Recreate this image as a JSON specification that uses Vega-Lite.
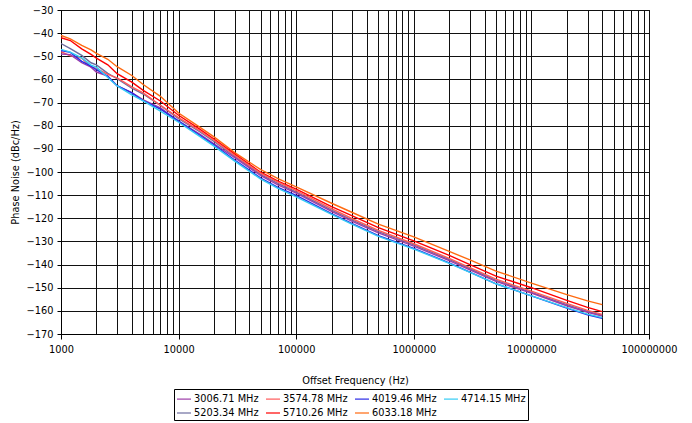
{
  "$schema": "https://vega.github.io/schema/vega-lite/v6.json",
  "autosize": "none",
  "width": 588,
  "height": 324,
  "padding": {"left": 61, "top": 10, "right": 43, "bottom": 89},
  "background": "white",
  "config": {
    "font": "DejaVu Sans",
    "view": {"stroke": "black", "strokeWidth": 1},
    "axis": {"labelFont": "DejaVu Sans", "titleFont": "DejaVu Sans", "labelFontSize": 9.8, "titleFontSize": 9.8, "titleFontWeight": "normal", "labelColor": "black", "titleColor": "black", "domainColor": "black", "tickColor": "black", "gridColor": "#111111", "gridOpacity": 1, "gridWidth": 1},
    "legend": {"labelFont": "DejaVu Sans", "labelFontSize": 9.8, "labelColor": "black"}
  },
  "datasets": {
    "pn": [
      {"s":"6033.18 MHz","f":1000,"v":-41},{"s":"6033.18 MHz","f":1200,"v":-42.5},{"s":"6033.18 MHz","f":1500,"v":-45.3},{"s":"6033.18 MHz","f":1800,"v":-47.2},{"s":"6033.18 MHz","f":2000,"v":-48.7},{"s":"6033.18 MHz","f":2500,"v":-51.3},{"s":"6033.18 MHz","f":3000,"v":-54.5},{"s":"6033.18 MHz","f":4000,"v":-58.3},{"s":"6033.18 MHz","f":5000,"v":-62.2},{"s":"6033.18 MHz","f":7000,"v":-67.3},{"s":"6033.18 MHz","f":10000,"v":-74.5},{"s":"6033.18 MHz","f":15000,"v":-80.5},{"s":"6033.18 MHz","f":20000,"v":-84.8},{"s":"6033.18 MHz","f":30000,"v":-91.6},{"s":"6033.18 MHz","f":50000,"v":-99},{"s":"6033.18 MHz","f":70000,"v":-102.9},{"s":"6033.18 MHz","f":100000,"v":-106.4},{"s":"6033.18 MHz","f":200000,"v":-113.5},{"s":"6033.18 MHz","f":300000,"v":-117.5},{"s":"6033.18 MHz","f":500000,"v":-122.5},{"s":"6033.18 MHz","f":1000000,"v":-128},{"s":"6033.18 MHz","f":2000000,"v":-134.3},{"s":"6033.18 MHz","f":3000000,"v":-138},{"s":"6033.18 MHz","f":5000000,"v":-142.8},{"s":"6033.18 MHz","f":10000000,"v":-148},{"s":"6033.18 MHz","f":20000000,"v":-153},{"s":"6033.18 MHz","f":30000000,"v":-155.7},{"s":"6033.18 MHz","f":40000000,"v":-157.3},

      {"s":"5710.26 MHz","f":1000,"v":-42},{"s":"5710.26 MHz","f":1200,"v":-43.2},{"s":"5710.26 MHz","f":1500,"v":-46.8},{"s":"5710.26 MHz","f":1800,"v":-49.2},{"s":"5710.26 MHz","f":2000,"v":-50.8},{"s":"5710.26 MHz","f":2500,"v":-53.7},{"s":"5710.26 MHz","f":3000,"v":-57.5},{"s":"5710.26 MHz","f":4000,"v":-61.2},{"s":"5710.26 MHz","f":5000,"v":-64.7},{"s":"5710.26 MHz","f":7000,"v":-69.3},{"s":"5710.26 MHz","f":10000,"v":-75.5},{"s":"5710.26 MHz","f":15000,"v":-81.4},{"s":"5710.26 MHz","f":20000,"v":-85.8},{"s":"5710.26 MHz","f":30000,"v":-92.3},{"s":"5710.26 MHz","f":50000,"v":-100.1},{"s":"5710.26 MHz","f":70000,"v":-103.9},{"s":"5710.26 MHz","f":100000,"v":-107.4},{"s":"5710.26 MHz","f":200000,"v":-115},{"s":"5710.26 MHz","f":300000,"v":-119},{"s":"5710.26 MHz","f":500000,"v":-124},{"s":"5710.26 MHz","f":1000000,"v":-129.8},{"s":"5710.26 MHz","f":2000000,"v":-136},{"s":"5710.26 MHz","f":3000000,"v":-140},{"s":"5710.26 MHz","f":5000000,"v":-145},{"s":"5710.26 MHz","f":10000000,"v":-150},{"s":"5710.26 MHz","f":20000000,"v":-155.5},{"s":"5710.26 MHz","f":30000000,"v":-158.5},{"s":"5710.26 MHz","f":40000000,"v":-160.3},

      {"s":"5203.34 MHz","f":1000,"v":-44.5},{"s":"5203.34 MHz","f":1200,"v":-46.7},{"s":"5203.34 MHz","f":1500,"v":-49.6},{"s":"5203.34 MHz","f":1800,"v":-52.8},{"s":"5203.34 MHz","f":2000,"v":-53.7},{"s":"5203.34 MHz","f":2500,"v":-57.4},{"s":"5203.34 MHz","f":3000,"v":-59.7},{"s":"5203.34 MHz","f":4000,"v":-63.8},{"s":"5203.34 MHz","f":5000,"v":-66.3},{"s":"5203.34 MHz","f":7000,"v":-71.2},{"s":"5203.34 MHz","f":10000,"v":-77},{"s":"5203.34 MHz","f":15000,"v":-82.5},{"s":"5203.34 MHz","f":20000,"v":-86.8},{"s":"5203.34 MHz","f":30000,"v":-93.3},{"s":"5203.34 MHz","f":50000,"v":-101.1},{"s":"5203.34 MHz","f":70000,"v":-104.9},{"s":"5203.34 MHz","f":100000,"v":-108.7},{"s":"5203.34 MHz","f":200000,"v":-116.5},{"s":"5203.34 MHz","f":300000,"v":-120.8},{"s":"5203.34 MHz","f":500000,"v":-125.8},{"s":"5203.34 MHz","f":1000000,"v":-131.5},{"s":"5203.34 MHz","f":2000000,"v":-137.8},{"s":"5203.34 MHz","f":3000000,"v":-141.8},{"s":"5203.34 MHz","f":5000000,"v":-146.8},{"s":"5203.34 MHz","f":10000000,"v":-152},{"s":"5203.34 MHz","f":20000000,"v":-157.3},{"s":"5203.34 MHz","f":30000000,"v":-160.2},{"s":"5203.34 MHz","f":40000000,"v":-161.9},

      {"s":"3574.78 MHz","f":1000,"v":-48},{"s":"3574.78 MHz","f":1200,"v":-49.8},{"s":"3574.78 MHz","f":1500,"v":-50.8},{"s":"3574.78 MHz","f":1800,"v":-54.7},{"s":"3574.78 MHz","f":2000,"v":-55.2},{"s":"3574.78 MHz","f":2500,"v":-57.8},{"s":"3574.78 MHz","f":3000,"v":-59.3},{"s":"3574.78 MHz","f":4000,"v":-63.2},{"s":"3574.78 MHz","f":5000,"v":-65.8},{"s":"3574.78 MHz","f":7000,"v":-71.2},{"s":"3574.78 MHz","f":10000,"v":-76.5},{"s":"3574.78 MHz","f":15000,"v":-82},{"s":"3574.78 MHz","f":20000,"v":-86.3},{"s":"3574.78 MHz","f":30000,"v":-92.8},{"s":"3574.78 MHz","f":50000,"v":-100.6},{"s":"3574.78 MHz","f":70000,"v":-104.4},{"s":"3574.78 MHz","f":100000,"v":-108},{"s":"3574.78 MHz","f":200000,"v":-115.8},{"s":"3574.78 MHz","f":300000,"v":-120.2},{"s":"3574.78 MHz","f":500000,"v":-125.2},{"s":"3574.78 MHz","f":1000000,"v":-131},{"s":"3574.78 MHz","f":2000000,"v":-137.3},{"s":"3574.78 MHz","f":3000000,"v":-141.3},{"s":"3574.78 MHz","f":5000000,"v":-146.3},{"s":"3574.78 MHz","f":10000000,"v":-151.5},{"s":"3574.78 MHz","f":20000000,"v":-156.8},{"s":"3574.78 MHz","f":30000000,"v":-159.8},{"s":"3574.78 MHz","f":40000000,"v":-161.5},

      {"s":"3006.71 MHz","f":1000,"v":-49},{"s":"3006.71 MHz","f":1200,"v":-49.3},{"s":"3006.71 MHz","f":1500,"v":-52.8},{"s":"3006.71 MHz","f":1800,"v":-54.7},{"s":"3006.71 MHz","f":2000,"v":-56.8},{"s":"3006.71 MHz","f":2500,"v":-58.6},{"s":"3006.71 MHz","f":3000,"v":-62.8},{"s":"3006.71 MHz","f":4000,"v":-65.7},{"s":"3006.71 MHz","f":5000,"v":-68.8},{"s":"3006.71 MHz","f":7000,"v":-72.3},{"s":"3006.71 MHz","f":10000,"v":-78},{"s":"3006.71 MHz","f":15000,"v":-83.5},{"s":"3006.71 MHz","f":20000,"v":-87.8},{"s":"3006.71 MHz","f":30000,"v":-93.8},{"s":"3006.71 MHz","f":50000,"v":-101.6},{"s":"3006.71 MHz","f":70000,"v":-105.6},{"s":"3006.71 MHz","f":100000,"v":-109.1},{"s":"3006.71 MHz","f":200000,"v":-117},{"s":"3006.71 MHz","f":300000,"v":-121.3},{"s":"3006.71 MHz","f":500000,"v":-126.3},{"s":"3006.71 MHz","f":1000000,"v":-132},{"s":"3006.71 MHz","f":2000000,"v":-138.3},{"s":"3006.71 MHz","f":3000000,"v":-142.3},{"s":"3006.71 MHz","f":5000000,"v":-147.3},{"s":"3006.71 MHz","f":10000000,"v":-152.3},{"s":"3006.71 MHz","f":20000000,"v":-157.8},{"s":"3006.71 MHz","f":30000000,"v":-160.6},{"s":"3006.71 MHz","f":40000000,"v":-162.3},

      {"s":"4019.46 MHz","f":1000,"v":-47.5},{"s":"4019.46 MHz","f":1200,"v":-48.3},{"s":"4019.46 MHz","f":1500,"v":-52.2},{"s":"4019.46 MHz","f":1800,"v":-54.2},{"s":"4019.46 MHz","f":2000,"v":-55.8},{"s":"4019.46 MHz","f":2500,"v":-58.7},{"s":"4019.46 MHz","f":3000,"v":-62.7},{"s":"4019.46 MHz","f":4000,"v":-65.8},{"s":"4019.46 MHz","f":5000,"v":-69.2},{"s":"4019.46 MHz","f":7000,"v":-72.8},{"s":"4019.46 MHz","f":10000,"v":-78},{"s":"4019.46 MHz","f":15000,"v":-84},{"s":"4019.46 MHz","f":20000,"v":-88.3},{"s":"4019.46 MHz","f":30000,"v":-94.8},{"s":"4019.46 MHz","f":50000,"v":-102.6},{"s":"4019.46 MHz","f":70000,"v":-106.6},{"s":"4019.46 MHz","f":100000,"v":-110.1},{"s":"4019.46 MHz","f":200000,"v":-118},{"s":"4019.46 MHz","f":300000,"v":-122.3},{"s":"4019.46 MHz","f":500000,"v":-127.5},{"s":"4019.46 MHz","f":1000000,"v":-133},{"s":"4019.46 MHz","f":2000000,"v":-139.3},{"s":"4019.46 MHz","f":3000000,"v":-143.3},{"s":"4019.46 MHz","f":5000000,"v":-148.3},{"s":"4019.46 MHz","f":10000000,"v":-153.5},{"s":"4019.46 MHz","f":20000000,"v":-158.8},{"s":"4019.46 MHz","f":30000000,"v":-161.7},{"s":"4019.46 MHz","f":40000000,"v":-163.2},

      {"s":"4714.15 MHz","f":1000,"v":-47},{"s":"4714.15 MHz","f":1200,"v":-48.2},{"s":"4714.15 MHz","f":1500,"v":-50.7},{"s":"4714.15 MHz","f":1800,"v":-53.8},{"s":"4714.15 MHz","f":2000,"v":-54.7},{"s":"4714.15 MHz","f":2500,"v":-59.2},{"s":"4714.15 MHz","f":3000,"v":-62.8},{"s":"4714.15 MHz","f":4000,"v":-66.7},{"s":"4714.15 MHz","f":5000,"v":-69.3},{"s":"4714.15 MHz","f":7000,"v":-73.7},{"s":"4714.15 MHz","f":10000,"v":-78.5},{"s":"4714.15 MHz","f":15000,"v":-84.5},{"s":"4714.15 MHz","f":20000,"v":-88.8},{"s":"4714.15 MHz","f":30000,"v":-95.3},{"s":"4714.15 MHz","f":50000,"v":-103.1},{"s":"4714.15 MHz","f":70000,"v":-107.1},{"s":"4714.15 MHz","f":100000,"v":-110.7},{"s":"4714.15 MHz","f":200000,"v":-118.3},{"s":"4714.15 MHz","f":300000,"v":-122.6},{"s":"4714.15 MHz","f":500000,"v":-127.8},{"s":"4714.15 MHz","f":1000000,"v":-133.3},{"s":"4714.15 MHz","f":2000000,"v":-139.5},{"s":"4714.15 MHz","f":3000000,"v":-143.4},{"s":"4714.15 MHz","f":5000000,"v":-148.3},{"s":"4714.15 MHz","f":10000000,"v":-153.5},{"s":"4714.15 MHz","f":20000000,"v":-158.6},{"s":"4714.15 MHz","f":30000000,"v":-161.4},{"s":"4714.15 MHz","f":40000000,"v":-162.9}
    ]
  },
  "data": {"name": "pn"},
  "mark": {"type": "line", "strokeWidth": 1.4, "clip": true},
  "encoding": {
    "x": {
      "field": "f", "type": "quantitative",
      "scale": {"type": "log", "domain": [1000, 100000000], "nice": false},
      "axis": {
        "title": "Offset Frequency (Hz)",
        "values": [1000,2000,3000,4000,5000,6000,7000,8000,9000,10000,20000,30000,40000,50000,60000,70000,80000,90000,100000,200000,300000,400000,500000,600000,700000,800000,900000,1000000,2000000,3000000,4000000,5000000,6000000,7000000,8000000,9000000,10000000,20000000,30000000,40000000,50000000,60000000,70000000,80000000,90000000,100000000],
        "labelExpr": "abs(log(datum.value)/LN10 - round(log(datum.value)/LN10)) < 0.001 ? format(datum.value, 'd') : ''",
        "tickOpacity": {"condition": {"test": "abs(log(datum.value)/LN10 - round(log(datum.value)/LN10)) < 0.001", "value": 1}, "value": 0},
        "tickSize": 5,
        "labelPadding": 5,
        "labelFlush": false,
        "labelOverlap": false,
        "titlePadding": 22,
        "grid": true
      }
    },
    "y": {
      "field": "v", "type": "quantitative",
      "scale": {"domain": [-170, -30], "nice": false, "zero": false},
      "axis": {
        "title": "Phase Noise (dBc/Hz)",
        "values": [-170,-160,-150,-140,-130,-120,-110,-100,-90,-80,-70,-60,-50,-40,-30],
        "tickSize": 4,
        "labelPadding": 4,
        "titlePadding": 6,
        "grid": true
      }
    },
    "color": {
      "field": "s", "type": "nominal",
      "scale": {
        "domain": ["3006.71 MHz","3574.78 MHz","4019.46 MHz","4714.15 MHz","5203.34 MHz","5710.26 MHz","6033.18 MHz"],
        "range": ["#9C3CA8","#FF5A5A","#2A2AE6","#33CCF5","#6E6EA0","#FF0000","#FF6A10"]
      },
      "legend": {
        "title": null,
        "orient": "none",
        "legendX": 113,
        "legendY": 379,
        "direction": "horizontal",
        "columns": 4,
        "symbolType": "stroke",
        "symbolSize": 196,
        "symbolStrokeWidth": 1.2,
        "labelFontSize": 9.8,
        "labelColor": "black",
        "labelOffset": 2,
        "columnPadding": 4,
        "rowPadding": 1,
        "strokeColor": "black",
        "padding": 2
      }
    }
  }
}
